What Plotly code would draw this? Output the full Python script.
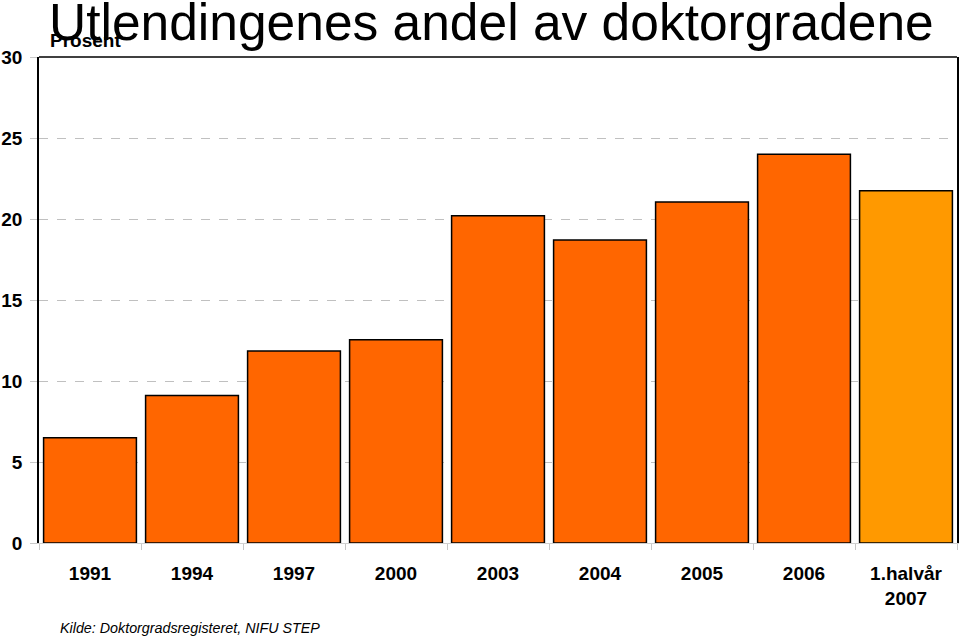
import plotly.graph_objects as go

categories = ["1991", "1994", "1997", "2000", "2003", "2004", "2005", "2006", "1.halvår<br>2007"]
values = [6.5, 9.1, 11.85, 12.55, 20.2, 18.7, 21.05, 24.0, 21.75]
colors = ["#FF6600"] * 8 + ["#FF9900"]
y_ticks = [0, 5, 10, 15, 20, 25, 30]

fig = go.Figure(go.Bar(
    x=categories, y=values,
    marker=dict(color=colors, line=dict(color="#000000", width=1.5)),
    hoverinfo="skip",
))

font = "Liberation Sans, Arial, sans-serif"
fig.update_layout(
    width=960, height=638,
    margin=dict(l=39, r=3, t=57, b=95, autoexpand=False),
    paper_bgcolor="white", plot_bgcolor="white",
    bargap=0.09,
    showlegend=False,
    xaxis=dict(
        type="category", automargin=False,
        showline=True, linecolor="#d0d0d0", linewidth=1,
        ticks="outside", tickson="boundaries", ticklen=6, tickcolor="#c8c8c8",
        showgrid=False,
        tickfont=dict(family=font, size=19, color="#000000", weight="bold"),
        ticklabelstandoff=13,
    ),
    yaxis=dict(
        range=[0, 30], tickvals=y_ticks, automargin=False,
        showline=True, linecolor="#000000", linewidth=1.5, mirror=True,
        ticks="outside", ticklen=7, tickcolor="#c8c8c8",
        showgrid=True, gridcolor="#c0c0c0", griddash="dash", gridwidth=1,
        zeroline=False,
        tickfont=dict(family=font, size=19, color="#000000", weight="bold"),
        ticklabelstandoff=4,
    ),
    shapes=[dict(type="line", xref="paper", yref="paper", x0=0, x1=1, y0=1, y1=1,
                 line=dict(color="#000000", width=1.5))],
    annotations=[
        dict(text="Utlendingenes andel av doktorgradene", xref="paper", yref="paper",
             x=0, y=1, xanchor="left", yanchor="bottom", xshift=8, yshift=4, showarrow=False,
             font=dict(family=font, size=51.5, color="#000000")),
        dict(text="<b>Prosent</b>", xref="paper", yref="paper",
             x=0, y=1, xanchor="left", yanchor="bottom", xshift=9, yshift=4, showarrow=False,
             font=dict(family=font, size=19, color="#000000")),
        dict(text="<i>Kilde: Doktorgradsregisteret, NIFU STEP</i>", xref="paper", yref="paper",
             x=0, y=0, xanchor="left", yanchor="top", xshift=19, yshift=-75, showarrow=False,
             font=dict(family=font, size=14.3, color="#000000")),
    ],
)

fig.write_html("out.html", config={"displayModeBar": False},
               post_script="document.body.style.margin='0';document.body.style.overflow='hidden';")
